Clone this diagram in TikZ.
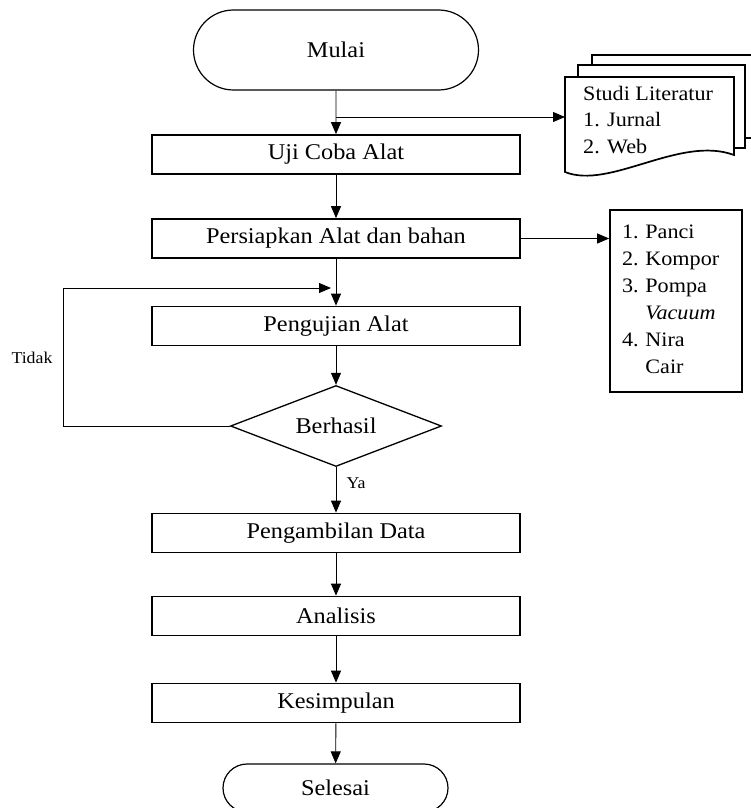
\documentclass[tikz,border=0pt]{standalone}
\usepackage{fontspec}
\setmainfont{Liberation Serif}[FakeStretch=1.08]
\usetikzlibrary{arrows.meta}
\usetikzlibrary{shapes.geometric}
\usetikzlibrary{shapes.misc}

\tikzset{
  teks/.style={font=\fontsize{22.5}{26}\selectfont},
  proses/.style={teks, draw, line width=1.7pt, minimum width=368pt, minimum height=39pt, inner sep=0pt},
  terminal/.style={teks, draw, rounded rectangle, line width=1.2pt, inner sep=0pt},
  keputusan/.style={teks, draw, diamond, aspect=2.6, line width=1.3pt, minimum width=211pt, minimum height=81pt, inner sep=0pt},
  lembar/.style={draw, line width=1.7pt, fill=white},
  panah/.style={line width=0.9pt, -{Triangle[length=12pt,width=10pt]}},
  kecil/.style={font=\fontsize{16.5}{20}\selectfont, inner sep=0pt}
}

\begin{document}
\begin{tikzpicture}[x=1pt, y=-1pt]%,>=latex]
\useasboundingbox (0,0) rectangle (751,808);
\node[terminal, minimum width=285pt, minimum height=80pt] (mulai) at (336,50) {Mulai};
\node[proses] (uji) at (336,154.5) {Uji Coba Alat};
\node[proses] (persiapan) at (336,238.5) {Persiapkan Alat dan bahan};
\node[proses] (pengujian) at (336,326) {Pengujian Alat};
\node[keputusan] (berhasil) at (336,426) {Berhasil};
\node[proses] (pengambilan) at (336,533) {Pengambilan Data};
\node[proses] (analisis) at (336,616) {Analisis};
\node[proses] (kesimpulan) at (336,703) {Kesimpulan};
\node[terminal, minimum width=225pt, minimum height=48pt] (selesai) at (335.5,788) {Selesai};
% dokumen studi literatur
\draw[lembar] (592,55) rectangle (765,138);
\draw[lembar] (578,65) rectangle (745,148);
\draw[lembar] (565,77) -- (734,77) -- (734,155) .. controls (680,135) and (610,190) .. (565,172) -- cycle;
\node[font=\fontsize{20.5}{26.5}\selectfont, inner sep=0pt, anchor=west] (studi) at (583,121.5)
  {\begin{tabular}{@{}l@{}}Studi Literatur\\1. Jurnal\\2. Web\end{tabular}};
% daftar alat dan bahan
\node[draw, line width=1.7pt, minimum width=132pt, minimum height=182pt, inner sep=0pt, text width=108pt, align=left,
  font=\fontsize{20.5}{27}\selectfont] (daftar) at (676,301)
  {\raisebox{6.5pt}{\begin{tabular}{@{}l@{~}l@{}}1. & Panci\\2. & Kompor\\3. & Pompa\\ & \textit{Vacuum}\\4. & Nira\\ & Cair\end{tabular}}};
\coordinate (cabang) at (336,117);
\coordinate (dok) at (565,117);
\coordinate (balik) at (63,288);
\coordinate (masuk) at (336,288);
\draw[panah] (mulai) -- (uji);
\draw[panah] (cabang) -- (dok);
\draw[panah] (uji) -- (persiapan);
\draw[panah] (persiapan.east) -- (persiapan.east -| daftar.west);
\draw[panah] (persiapan) -- (pengujian);
\draw[panah] (pengujian) -- (berhasil);
\draw[panah] (berhasil.west) -| (balik) -- ([xshift=-5pt]masuk);
\draw[panah] (berhasil) -- (pengambilan);
\draw[panah] (pengambilan) -- (analisis);
\draw[panah] (analisis) -- (kesimpulan);
\draw[panah] (kesimpulan) -- (selesai);
\node[kecil] (tidak) at (32,358) {Tidak};
\node[kecil] (ya) at (356,483) {Ya};
\end{tikzpicture}
\end{document}
